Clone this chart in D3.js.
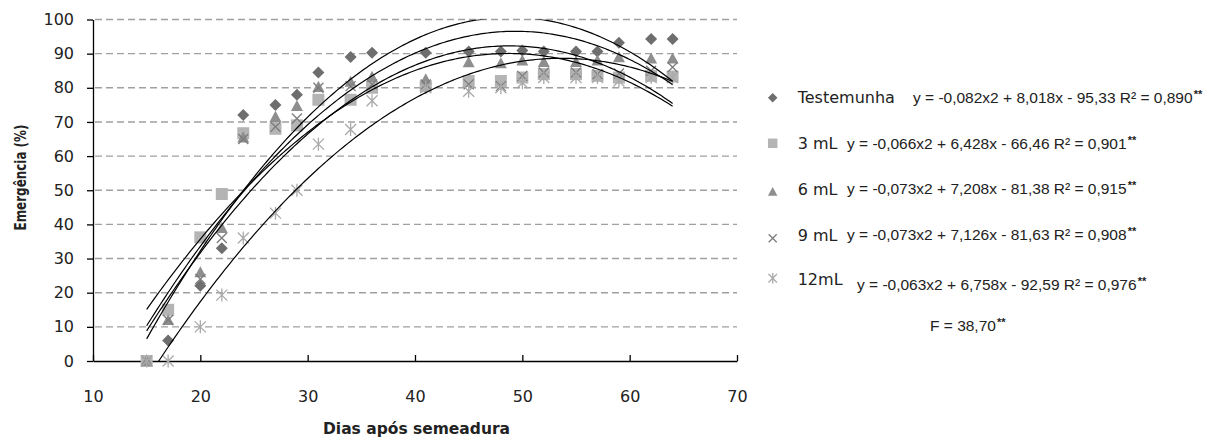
<!DOCTYPE html>
<html lang="pt">
<head>
<meta charset="UTF-8">
<title>Emergência (%) x Dias após semeadura</title>
<script src="https://d3js.org/d3.v7.min.js"></script>
<style>
    body { margin: 0; background: #fff; }
    .tick text { font: 16px "DejaVu Sans", sans-serif; fill: #222; }
    .axis path, .axis line { stroke: #000; stroke-width: 1.3px; }
    .grid { stroke: #a0a0a0; stroke-width: 1.4px; stroke-dasharray: 7 4; }
    .trend { fill: none; stroke: #000; stroke-width: 1.2px; }
    .leg-label { font: 16px "DejaVu Sans", sans-serif; fill: #222; }
    .leg-eq { font: 15.5px "Liberation Sans", sans-serif; fill: #222; }
    .leg-sig { font: bold 11px "Liberation Sans", sans-serif; fill: #222; }
    .title { font: bold 16.5px "DejaVu Sans", sans-serif; fill: #222; }
</style>
</head>
<body>
<div id="chart"></div>
<script>
    // dias após semeadura
    const days = [15, 17, 20, 22, 24, 27, 29, 31, 34, 36, 41, 45, 48, 50, 52, 55, 57, 59, 62, 64];

    // emergência (%) por tratamento
    const testemunha = [0, 6, 22, 33, 72, 75, 78, 84.5, 89, 90.3, 90.3, 90.6, 90.6, 90.9, 90.6, 90.6, 90.6, 93.2, 94.3, 94.3];
    const ml3 = [0, 15, 36.2, 48.9, 66.7, 68, 69, 76.5, 76.5, 80, 80.5, 82, 82, 83, 84, 84, 83.5, 83, 83.5, 83.3];
    const ml6 = [0, 12, 26, 39, 65.5, 71.5, 74.7, 80.3, 81.8, 83.2, 82.5, 87.5, 87.2, 88, 87.6, 87.6, 88, 89, 88.6, 88.6];
    const ml9 = [0, 12, 24, 36, 65, 68.6, 71, 80, 80.5, 81, 81, 81, 80.5, 83.5, 84.5, 84.5, 84, 84.2, 85, 86];
    const ml12 = [0, 0, 10, 19.3, 36, 43.3, 50, 63.5, 67.8, 76.2, 80, 79, 80, 81.5, 83, 83, 83, 82, 83, 83];

    const seriesNames = ["Testemunha", "3 mL", "6 mL", "9 mL", "12mL"];

    // coeficientes das linhas de tendência (y = a x² + b x + c)
    const coefA = [-0.082, -0.066, -0.073, -0.073, -0.063];
    const coefB = [8.018, 6.428, 7.208, 7.126, 6.758];
    const coefC = [-95.33, -66.46, -81.38, -81.63, -92.59];
    const equations = [
        "y = -0,082x2 + 8,018x - 95,33 R² = 0,890",
        "y = -0,066x2 + 6,428x - 66,46 R² = 0,901",
        "y = -0,073x2 + 7,208x - 81,38 R² = 0,915",
        "y = -0,073x2 + 7,126x - 81,63 R² = 0,908",
        "y = -0,063x2 + 6,758x - 92,59 R² = 0,976"
    ];
    const fText = "F = 38,70";
    const signif = "**";

    const xTicks = [10, 20, 30, 40, 50, 60, 70];
    const yTicks = [0, 10, 20, 30, 40, 50, 60, 70, 80, 90, 100];

    const width = 1208, height = 438;
    const plotLeft = 93, plotRight = 737, plotTop = 19.5, plotBottom = 361;

    const x = d3.scaleLinear().domain([10, 70]).range([plotLeft, plotRight]);
    const y = d3.scaleLinear().domain([0, 100]).range([plotBottom, plotTop]);

    const svg = d3.select("#chart").append("svg")
        .attr("width", width)
        .attr("height", height);

    svg.append("defs").append("clipPath").attr("id", "plot")
        .append("rect")
        .attr("x", plotLeft).attr("y", plotTop)
        .attr("width", plotRight - plotLeft).attr("height", plotBottom - plotTop);

    // linhas de grade tracejadas
    svg.append("g").selectAll("line")
        .data(yTicks.filter(d => d > 0))
        .join("line")
        .attr("class", "grid")
        .attr("x1", plotLeft + 2).attr("x2", plotRight)
        .attr("y1", d => y(d)).attr("y2", d => y(d));

    svg.append("g")
        .attr("class", "axis")
        .attr("transform", `translate(${plotLeft},0)`)
        .call(d3.axisLeft(y).tickValues(yTicks).tickSizeInner(6).tickSizeOuter(0).tickPadding(13));

    svg.append("g")
        .attr("class", "axis")
        .attr("transform", `translate(0,${plotBottom})`)
        .call(d3.axisBottom(x).tickValues(xTicks).tickSizeInner(-6).tickSizeOuter(0).tickPadding(30));

    // marcadores
    const diamond = { draw(ctx, s) { const r = Math.sqrt(s) / 2; ctx.moveTo(0, -r); ctx.lineTo(r, 0); ctx.lineTo(0, r); ctx.lineTo(-r, 0); ctx.closePath(); } };
    const square = { draw(ctx, s) { const r = Math.sqrt(s) / 2; ctx.rect(-r, -r, 2 * r, 2 * r); } };
    const triangle = { draw(ctx, s) { const r = Math.sqrt(s) / 2; ctx.moveTo(0, -r); ctx.lineTo(r, r * 0.85); ctx.lineTo(-r, r * 0.85); ctx.closePath(); } };
    const cross = { draw(ctx, s) { const r = Math.sqrt(s) / 2 - 1; ctx.moveTo(-r, -r); ctx.lineTo(r, r); ctx.moveTo(r, -r); ctx.lineTo(-r, r); } };
    const star = { draw(ctx, s) { const r = Math.sqrt(s) / 2 - 1; ctx.moveTo(-r, -r); ctx.lineTo(r, r); ctx.moveTo(r, -r); ctx.lineTo(-r, r); ctx.moveTo(0, -r - 1); ctx.lineTo(0, r + 1); } };

    const series = [
        { values: testemunha, type: diamond, size: 144, fill: "#6e6e6e", stroke: "none" },
        { values: ml3, type: square, size: 144, fill: "#b4b4b4", stroke: "none" },
        { values: ml6, type: triangle, size: 144, fill: "#8e8e8e", stroke: "none" },
        { values: ml9, type: cross, size: 144, fill: "none", stroke: "#7c7c7c" },
        { values: ml12, type: star, size: 169, fill: "none", stroke: "#aaaaaa" }
    ];

    series.forEach(s => {
        svg.append("g").selectAll("path")
            .data(days.map((d, i) => [d, s.values[i]]))
            .join("path")
            .attr("transform", d => `translate(${x(d[0])},${y(d[1])})`)
            .attr("d", d3.symbol(s.type, s.size))
            .attr("fill", s.fill)
            .attr("stroke", s.stroke)
            .attr("stroke-width", 1.3);
    });

    // linhas de tendência polinomiais
    const xs = d3.range(15, 64.001, 0.25);
    const line = d3.line().x(d => x(d[0])).y(d => y(d[1]));
    const trends = svg.append("g").attr("clip-path", "url(#plot)");
    seriesNames.forEach((name, i) => {
        trends.append("path")
            .attr("class", "trend")
            .attr("d", line(xs.map(v => [v, coefA[i] * v * v + coefB[i] * v + coefC[i]])));
    });

    // títulos dos eixos
    svg.append("text")
        .attr("class", "title")
        .attr("text-anchor", "middle")
        .attr("x", 416.5).attr("y", 434)
        .attr("textLength", 187).attr("lengthAdjust", "spacingAndGlyphs")
        .text("Dias após semeadura");

    svg.append("text")
        .attr("class", "title")
        .attr("text-anchor", "middle")
        .attr("transform", "translate(26,177.5) rotate(-90)")
        .style("font-size", "15px")
        .attr("textLength", 106).attr("lengthAdjust", "spacingAndGlyphs")
        .text("Emergência (%)");

    // legenda
    const markerY = [97.7, 143.3, 191.7, 238.3, 278.3];
    const labelY = [103.3, 149.3, 195, 240.5, 285];
    const eqX = [913, 847, 847, 847, 857];
    const eqY = [103.3, 148.5, 194, 240, 290];
    const legendSize = [90, 90, 90, 100, 110];

    const legend = svg.append("g");

    function addEquation(text, ex, ey) {
        const t = legend.append("text")
            .attr("class", "leg-eq")
            .attr("x", ex).attr("y", ey)
            .text(text);
        const w = t.node().getComputedTextLength();
        legend.append("text")
            .attr("class", "leg-sig")
            .attr("x", ex + w + 1).attr("y", ey - 5)
            .text(signif);
    }

    series.forEach((s, i) => {
        legend.append("path")
            .attr("transform", `translate(772.7,${markerY[i]})`)
            .attr("d", d3.symbol(s.type, legendSize[i]))
            .attr("fill", s.fill)
            .attr("stroke", s.stroke)
            .attr("stroke-width", 1.3);

        legend.append("text")
            .attr("class", "leg-label")
            .attr("x", 797.7).attr("y", labelY[i])
            .text(seriesNames[i]);

        addEquation(equations[i], eqX[i], eqY[i]);
    });

    addEquation(fText, 930, 330.7);
</script>
</body>
</html>
